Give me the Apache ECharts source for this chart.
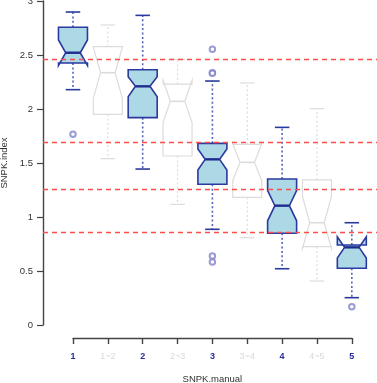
<!DOCTYPE html>
<html>
<head>
<meta charset="utf-8">
<script src="https://cdn.jsdelivr.net/npm/echarts@6/dist/echarts.min.js"></script>
<style>
html,body{margin:0;padding:0;background:#fff;}
#c{width:377px;height:383px;}
</style>
</head>
<body>
<div id="c"></div>
<script>
const categories = ['1','1~2','2','2~3','3','3~4','4','4~5','5'];
const whiskerLow  = [2.179, 1.540, 1.444, 1.117, 0.886, 0.808, 0.521, 0.407, 0.253];
const q1          = [2.426, 1.951, 1.920, 1.565, 1.303, 1.182, 0.849, 0.725, 0.525];
const median      = [2.521, 2.336, 2.210, 2.071, 1.534, 1.506, 1.105, 0.947, 0.719];
const q3          = [2.757, 2.577, 2.364, 2.231, 1.682, 1.673, 1.352, 1.343, 0.741];
const whiskerHigh = [2.898, 2.778, 2.867, 2.460, 2.259, 2.241, 1.830, 2.003, 0.947];
const notchLow    = [2.403, 2.100, 2.114, 1.874, 1.435, 1.336, 0.965, 0.710, 0.621];
const notchHigh   = [2.639, 2.570, 2.299, 2.268, 1.630, 1.676, 1.245, 1.190, 0.817];
const outlierCategory = [0, 4, 4, 4, 4, 4, 8];
const outlierValue    = [1.766, 2.553, 2.336, 2.330, 0.639, 0.583, 0.169];
const refLines = [2.463, 1.692, 1.256, 0.858];
const yTicks = [0, 0.5, 1, 1.5, 2, 2.5, 3];

const FONT = '"Liberation Sans", Arial, sans-serif';
const BLUE_EDGE = '#2a3a9e';
const BLUE_MED = '#1e2c8e';
const BLUE_WH = '#5563bc';
const GREY = '#dcdcdc';

const boxData = categories.map((c, i) => [i + 1, whiskerLow[i], q1[i], median[i], q3[i], whiskerHigh[i], notchLow[i], notchHigh[i]]);
const outData = outlierCategory.map((ci, k) => [ci + 1, outlierValue[k]]);

function renderBox(params, api) {
  const x = api.value(0);
  const main = params.dataIndex % 2 === 0;
  const P = v => api.coord([x, v]);
  const cx = P(0)[0];
  const hw = api.size([0.416, 0])[0];
  const y = idx => P(api.value(idx))[1];
  const yWl = y(1), yQ1 = y(2), yMed = y(3), yQ3 = y(4), yWh = y(5), yNl = y(6), yNh = y(7);
  const edge = main ? BLUE_EDGE : GREY;
  const wcol = main ? BLUE_WH : GREY;
  const lw = main ? 1.6 : 1.2;
  const dash = [2, 2.4];
  const children = [];
  children.push({type:'line', shape:{x1:cx, y1:yQ3, x2:cx, y2:yWh}, style:{stroke:wcol, lineWidth: main?1.6:1.2, lineDash:dash}});
  children.push({type:'line', shape:{x1:cx, y1:yQ1, x2:cx, y2:yWl}, style:{stroke:wcol, lineWidth: main?1.6:1.2, lineDash:dash}});
  children.push({type:'line', shape:{x1:cx-hw/2, y1:yWh, x2:cx+hw/2, y2:yWh}, style:{stroke:edge, lineWidth:lw}});
  children.push({type:'line', shape:{x1:cx-hw/2, y1:yWl, x2:cx+hw/2, y2:yWl}, style:{stroke:edge, lineWidth:lw}});
  children.push({type:'polygon', shape:{points:[
    [cx-hw, yQ1],[cx-hw, yNl],[cx-hw/2, yMed],[cx-hw, yNh],[cx-hw, yQ3],
    [cx+hw, yQ3],[cx+hw, yNh],[cx+hw/2, yMed],[cx+hw, yNl],[cx+hw, yQ1]
  ]}, style:{fill: main ? '#add8e6' : '#ffffff', stroke: edge, lineWidth: lw, lineJoin:'miter'}});
  children.push({type:'line', shape:{x1:cx-hw/2, y1:yMed, x2:cx+hw/2, y2:yMed}, style:{stroke: main ? BLUE_MED : GREY, lineWidth: main ? 2.4 : 1.6}});
  return {type:'group', children};
}

const chart = echarts.init(document.getElementById('c'), null, {renderer:'canvas'});
chart.setOption({
  animation: false,
  backgroundColor: '#ffffff',
  grid: [
    {left: 43, top: 1, width: 338.8, height: 324, outerBoundsMode: 'none', containLabel: false},
    {left: 73, top: 1, width: 278.8, height: 337, outerBoundsMode: 'none', containLabel: false}
  ],
  xAxis: [
    {gridIndex: 0, type: 'value', min: 0.14, max: 9.86, show: false},
    {gridIndex: 1, type: 'category', boundaryGap: false,
     data: categories.map((c, i) => ({value: c, textStyle: i % 2 === 0 ? {color: '#2a2aa0', fontWeight: 'bold'} : {color: '#d8d8d8', fontWeight: 'normal'}})),
     axisLine: {show: true, lineStyle: {color: '#444', width: 1.4}},
     axisTick: {show: true, alignWithLabel: true, length: 6, lineStyle: {color: '#444', width: 1.4}},
     axisLabel: {fontFamily: FONT, fontSize: 9, margin: 14},
     splitLine: {show: false},
     name: 'SNPK.manual', nameLocation: 'middle', nameGap: 36,
     nameTextStyle: {fontFamily: FONT, fontSize: 9.5, color: '#333'}
    }
  ],
  yAxis: [
    {gridIndex: 0, type: 'value', min: yTicks[0], max: yTicks[yTicks.length-1], interval: 0.5,
     axisLine: {show: true, lineStyle: {color: '#444', width: 1.4}},
     axisTick: {show: true, length: 6, lineStyle: {color: '#444', width: 1.2}},
     axisLabel: {fontFamily: FONT, fontSize: 9.5, color: '#333', margin: 10},
     splitLine: {show: false},
     name: 'SNPK.index', nameLocation: 'middle', nameGap: 32,
     nameTextStyle: {fontFamily: FONT, fontSize: 9.5, color: '#333'}
    },
    {gridIndex: 1, type: 'value', min: 0, max: 1, show: false}
  ],
  series: [
    {type: 'custom', xAxisIndex: 0, yAxisIndex: 0, renderItem: renderBox, data: boxData, clip: false, z: 2,
     encode: {x: 0, y: [1, 2, 3, 4, 5]}},
    {type: 'scatter', xAxisIndex: 0, yAxisIndex: 0, data: outData, symbol: 'emptyCircle', symbolSize: 5.5,
     itemStyle: {color: '#8282cc', borderColor: '#8282cc', borderWidth: 0.9}, z: 3},
    {type: 'line', xAxisIndex: 0, yAxisIndex: 0, data: [], z: 5,
     markLine: {silent: true, symbol: ['none', 'none'], label: {show: false},
       lineStyle: {color: '#ff4d4d', type: [5, 4], width: 1.4},
       data: refLines.map(v => ({yAxis: v}))}},
    {type: 'line', xAxisIndex: 1, yAxisIndex: 1, data: []}
  ]
});
</script>
</body>
</html>
